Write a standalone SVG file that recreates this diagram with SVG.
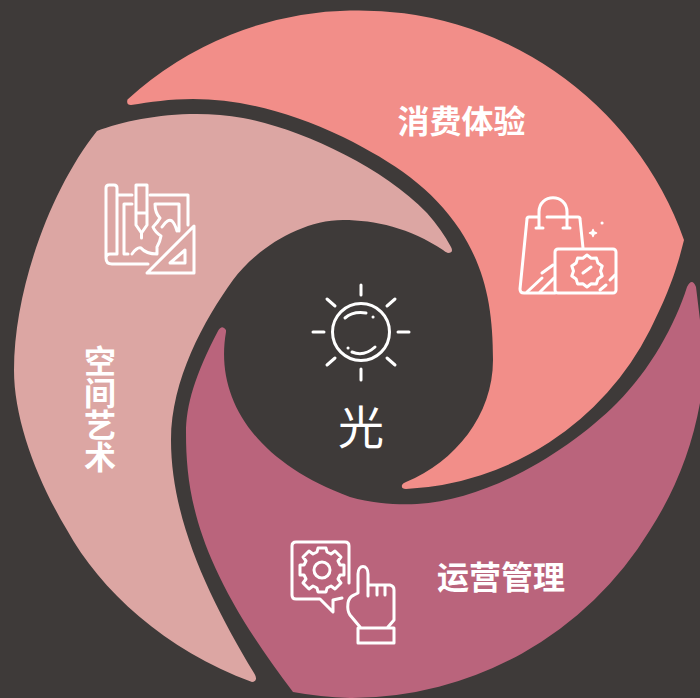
<svg xmlns="http://www.w3.org/2000/svg" width="700" height="698" viewBox="0 0 700 698">
<style>
.i{fill:none;stroke:#fff;stroke-width:3;stroke-linecap:round;stroke-linejoin:round}
.t{font-family:"Noto Sans CJK SC","Noto Sans",sans-serif;fill:#fff;font-weight:700;font-size:32px}
</style>
<rect width="700" height="698" fill="#3e3a39"/>
<g id="node-xiaofei">
<path fill="#f28e89" d="M127.500 99.500A340 340 0 0 1 350 10.500A345 345 0 0 1 684 240C677 268 670 290 650 330A290 290 0 0 1 406 489Q401 489 402 485Q403 483 406 482C455 462 493 415 493 360C493 310 486 270 460 230C432 188 395 163 343 137C290 112 240 99 193 99C170 99 150 102 131 105Q126 105 127.500 99.500Z"/>
<text class="t" x="461.500" y="133" text-anchor="middle">消费体验</text>
<g class="i">
<path d="M539 228V212C539 193 567 193 567 212V228M536 228H543M563 228H570"/>
<path d="M547 217H578Q580 217 580 219L583 248M538 217H529Q527 217 527 219L520 289Q520 293 524 293H555"/>
<rect x="555" y="249" width="61" height="44" rx="3"/>
<path d="M587 255L591.200 258.200 596.400 258.100 597.900 263.100 602.200 266.100 600.500 271 602.200 275.900 597.900 278.900 596.400 283.900 591.200 283.800 587 287 582.800 283.800 577.600 283.900 576.100 278.900 571.800 275.900 573.500 271 571.800 266.100 576.100 263.100 577.600 258.100 582.800 258.200Z"/>
<path d="M583 273L591 267M527 292L542 278M540 292L554 278M542 273L553 265M600 290L606 285M610 280L615 275"/>
<path d="M593 229.500L594 232 596.500 233 594 234 593 236.500 592 234 589.500 233 592 232Z" fill="#fff" stroke-width="1.500"/>
<path d="M602 223H602.100"/>
</g>
</g>
<g id="node-kongjian">
<path fill="#dca6a3" d="M97 131C130 118 190 108 243 118C300 129 380 165 427 213C437 224 445 236 451 247Q454 253 448 253Q445 252 443 250C410 228 375 220 343 220C300 220 255 250 233 280C204 320 171 380 171 440C171 520 210 600 254 673Q259 681 252 682C165 650 100 590 67 530C37 480 14 420 14 370C14 290 50 190 97 131Z"/>
<text class="t" x="100" y="345" style="writing-mode:vertical-rl;text-orientation:upright">空间艺术</text>
<g class="i">
<path d="M117 195H132M150 195H188V225M117 254V188Q117 185 114 185H109Q106 185 106 188V258Q106 264 112 264H148M106 258Q106 254 110 254H117"/>
<path d="M136 185H147V225L141.500 233 136 225ZM136 213H147M141.500 233V238"/>
<path d="M132 204H124V254H128M132 254Q137 247 141 248Q146 254 157 254V247Q160 242 161 236Q155 232 153 227Q158 222 160 218Q155 213 155 204H179V231M162 227Q168 218 172 221Q175 224 177 231"/>
<path d="M194 226V273H147ZM185 250V263H170Z"/>
</g>
</g>
<g id="node-yunying">
<path fill="#ba647c" d="M218 331Q222 324 226 330L226 332C215 395 250 460 350 497C375 504 400 505 417 504C490 500 570 450 617 403C650 370 675 325 687 287Q692 277 696 287L700 320V403A350 350 0 0 1 650 530A350 350 0 0 1 350 698Q320 697 293 692C200 570 186 500 186 433C186 405 195 375 218 331Z"/>
<text class="t" x="501" y="589" text-anchor="middle">运营管理</text>
<g class="i">
<path d="M349 583V546Q349 542 345 542H296Q292 542 292 546V595Q292 599 296 599H320L333 612V600L342 598"/>
<g transform="translate(0 -1)">
<path d="M318 549H326L327 553 331 555 335 552 341 558 338 562 340 566H344V576H340L338 580 341 584 335 590 331 587 327 589 326 593H318L317 589 313 587 309 590 303 584 306 580 304 576H300V566H304L306 562 303 558 309 552 313 555 317 553Z"/>
<circle cx="322" cy="571" r="8"/>
</g>
<path d="M360 627L350 615Q347 611 348 603Q349 597 354 595L358 593V574C358 564 368 564 368 574V596M368 585H377V595M377 585H385V595M385 585H390Q394 586 394 590V620L388 627"/>
<rect x="358" y="628" width="36" height="15"/>
</g>
</g>
<g id="node-guang">
<g class="i">
<circle cx="361" cy="332" r="28.500"/>
<path d="M345 318Q353 311 366 313M373 317H373.100M352 352Q364 357 375 347M348 348H348.100"/>
<path d="M361 285V295M361 369V380M313 332H324M398 332H409M327 299L335 306M395 299L387 306M327 365L335 358M395 365L387 358"/>
</g>
<text x="361" y="444" text-anchor="middle" style="font-family:'Noto Sans CJK SC','Noto Sans',sans-serif;font-size:46px;fill:#fff">光</text>
</g>
<g id="connectors"/>
</svg>
